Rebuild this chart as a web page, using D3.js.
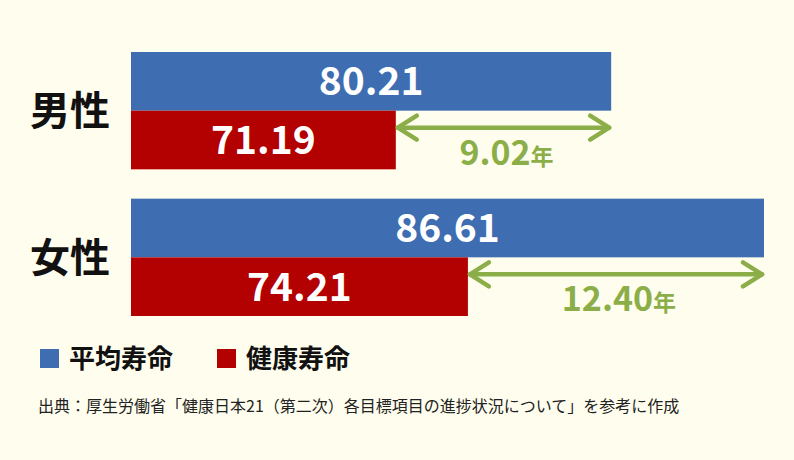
<!DOCTYPE html>
<html><head><meta charset="utf-8">
<script src="https://cdn.jsdelivr.net/npm/d3@7"></script>
<style>html,body{margin:0;padding:0;background:#FFFEEE;}svg{display:block;}</style>
</head><body>
<script>
const categories = ["男性", "女性"];
const seriesNames = ["平均寿命", "健康寿命"];
const avgLife = [80.21, 86.61];
const healthyLife = [71.19, 74.21];
const gapLabels = ["9.02", "12.40"];
const unit = "年";
const source = "出典：厚生労働省「健康日本21（第二次）各目標項目の進捗状況について」を参考に作成";

const W = 794, H = 460;
const colors = ["#3E6DB1", "#B30000"];
const green = "#8BAE49";
const font = "'Noto Sans CJK JP', 'Noto Sans', sans-serif";

const svg = d3.select("body").append("svg").attr("width", W).attr("height", H);
svg.append("rect").attr("width", W).attr("height", H).attr("fill", "#FFFEEE");

const x = d3.scaleLinear().domain([60.1, 86.61]).range([131, 764]);
const y = d3.scaleBand().domain(categories).range([52, 316]).paddingInner(0.2);
const sub = d3.scaleBand().domain(seriesNames).range([0, y.bandwidth()]);
const x0 = x.range()[0];

categories.forEach((c, i) => {
  const g = svg.append("g").attr("transform", `translate(0,${y(c)})`);
  const vals = [avgLife[i], healthyLife[i]];
  vals.forEach((v, j) => {
    const s = seriesNames[j];
    g.append("rect").attr("x", x0).attr("y", sub(s))
      .attr("width", x(v) - x0).attr("height", sub.bandwidth())
      .attr("fill", colors[j]);
    g.append("text").attr("x", (x0 + x(v)) / 2).attr("y", sub(s) + sub.bandwidth() / 2)
      .attr("dy", "0.36em").attr("text-anchor", "middle")
      .attr("fill", "#fff").attr("font-family", font).attr("font-weight", 700)
      .attr("font-size", 39).text(v.toFixed(2));
  });
  g.append("text").attr("x", 70).attr("y", y.bandwidth() / 2)
    .attr("dy", "0.36em").attr("text-anchor", "middle")
    .attr("fill", "#111").attr("font-family", font).attr("font-weight", 700)
    .attr("font-size", 40).text(c);
  const x1 = x(healthyLife[i]), x2 = x(avgLife[i]);
  const ay = sub(seriesNames[1]) + 17;
  const ag = g.append("g").attr("stroke", green).attr("stroke-width", 4.5)
    .attr("fill", "none").attr("stroke-linecap", "round").attr("stroke-linejoin", "round");
  ag.append("line").attr("x1", x1 + 2).attr("x2", x2 - 2).attr("y1", ay).attr("y2", ay);
  ag.append("path").attr("d", `M${x1 + 21},${ay - 12} L${x1 + 2},${ay} L${x1 + 21},${ay + 12}`);
  ag.append("path").attr("d", `M${x2 - 21},${ay - 12} L${x2 - 2},${ay} L${x2 - 21},${ay + 12}`);
  const t = g.append("text").attr("x", (x1 + x2) / 2 + 3).attr("y", ay + 37)
    .attr("text-anchor", "middle").attr("fill", green)
    .attr("font-family", font).attr("font-weight", 700);
  t.append("tspan").attr("font-size", 34).text(gapLabels[i]);
  t.append("tspan").attr("font-size", 23).text(unit);
});

const legX = [40, 217];
seriesNames.forEach((s, j) => {
  svg.append("rect").attr("x", legX[j]).attr("y", 349).attr("width", 19).attr("height", 19).attr("fill", colors[j]);
  svg.append("text").attr("x", legX[j] + 29).attr("y", 358.5).attr("dy", "0.36em")
    .attr("fill", "#111").attr("font-family", font).attr("font-weight", 700)
    .attr("font-size", 26).text(s);
});

svg.append("text").attr("x", 38).attr("y", 412).attr("fill", "#222")
  .attr("font-family", font).attr("font-size", 16).text(source);
</script>
</body></html>
